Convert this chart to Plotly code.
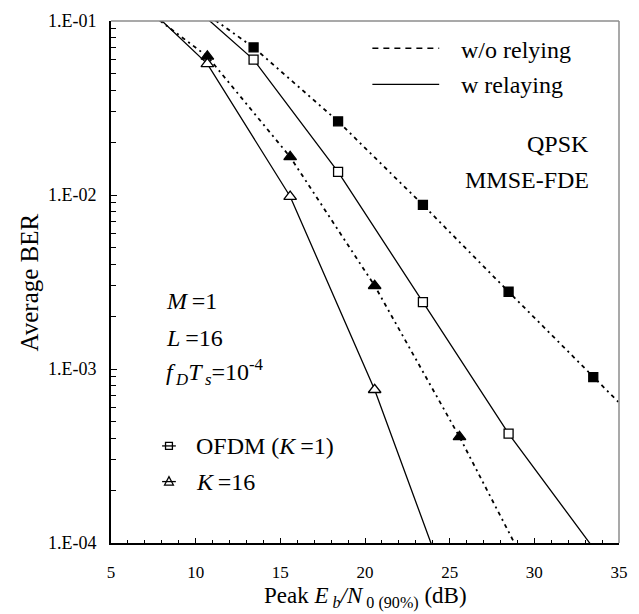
import plotly.graph_objects as go

# ---- data ----
sq_x = [13.42, 18.41, 23.42, 28.48, 33.48]
ofdm_wo = [0.0705, 0.0265, 0.00877, 0.00278, 0.000897]      # filled squares (w/o relaying)
ofdm_w_x = [13.42, 18.41, 23.42, 28.48]
ofdm_w = [0.060, 0.01359, 0.00242, 0.000425]                 # open squares (w relaying)

tri_x = [10.69, 15.58, 20.57, 25.58]
k16_wo = [0.0626, 0.01655, 0.00301, 0.000407]               # filled triangles (w/o relaying)
k16_w_x = [10.69, 15.58, 20.57]
k16_w = [0.0567, 0.0098, 0.00076]                           # open triangles (w relaying)

# curve extents beyond the first/last marker
ofdm_wo_line_x = [10.86] + sq_x + [35.41]
ofdm_wo_line_y = [0.1058] + ofdm_wo + [0.000585]
ofdm_w_line_x = [10.55] + ofdm_w_x + [33.48]
ofdm_w_line_y = [0.1058] + ofdm_w + [9.37e-5]
k16_wo_line_x = [7.58] + tri_x + [28.93]
k16_wo_line_y = [0.1058] + k16_wo + [9.55e-5]
k16_w_line_x = [7.75] + k16_w_x + [24.0]
k16_w_line_y = [0.1058] + k16_w + [9.37e-5]

y_tickvals = [1e-4, 1e-3, 1e-2, 1e-1]
y_ticktext = ["1.E-04", "1.E-03", "1.E-02", "1.E-01"]
y_minor = [m * 10 ** e for e in (-4, -3, -2) for m in range(2, 10)]

FONT = "Liberation Serif"
DOT = "2px,4px,4px,4px"
TS = "\u2009"  # thin space

fig = go.Figure()

def line(x, y, dash, width):
    fig.add_trace(go.Scatter(x=x, y=y, mode="lines", showlegend=False,
                             line=dict(color="black", width=width, dash=dash),
                             hoverinfo="skip"))

def marks(x, y, symbol, size, filled):
    fig.add_trace(go.Scatter(x=x, y=y, mode="markers", showlegend=False,
                             marker=dict(symbol=symbol, size=size,
                                         color="black" if filled else "white",
                                         line=dict(color="black", width=1.3)),
                             cliponaxis=False))

line(ofdm_wo_line_x, ofdm_wo_line_y, DOT, 1.8)
line(k16_wo_line_x, k16_wo_line_y, DOT, 1.8)
line(ofdm_w_line_x, ofdm_w_line_y, "solid", 1.3)
line(k16_w_line_x, k16_w_line_y, "solid", 1.3)

marks(sq_x, ofdm_wo, "square", 9, True)
marks(ofdm_w_x, ofdm_w, "square", 9, False)
marks(tri_x, k16_wo, "triangle-up", 11, True)
marks(k16_w_x, k16_w, "triangle-up", 11, False)

W, H = 639, 614
L, R, T, B = 111, 628, 16, 543          # plot area in page pixels

def px(x):
    return (x - L) / (R - L)
def py(y):
    return (B - y) / (B - T)

shapes = [
    # gray top & right frame
    dict(type="line", xref="paper", yref="paper", x0=0, x1=1, y0=1, y1=1,
         line=dict(color="#8c8c8c", width=1.5)),
    dict(type="line", xref="paper", yref="paper", x0=1, x1=1, y0=0, y1=1,
         line=dict(color="#8c8c8c", width=1.5)),
    # line-style key
    dict(type="line", xref="paper", yref="paper", x0=px(377), x1=px(445),
         y0=py(43.5), y1=py(43.5), line=dict(color="black", width=1.3, dash="6px,5px")),
    dict(type="line", xref="paper", yref="paper", x0=px(377), x1=px(445),
         y0=py(80), y1=py(80), line=dict(color="black", width=1.3)),
    # marker key: square with line
    dict(type="line", xref="paper", yref="paper", x0=px(163), x1=px(177),
         y0=py(445), y1=py(445), line=dict(color="black", width=1.3)),
    dict(type="rect", xref="paper", yref="paper", x0=px(166.5), x1=px(173.5),
         y0=py(448.5), y1=py(441.5), line=dict(color="black", width=1.3)),
    # triangle with line
    dict(type="line", xref="paper", yref="paper", x0=px(163), x1=px(177),
         y0=py(481), y1=py(481), line=dict(color="black", width=1.3)),
    dict(type="path", xref="paper", yref="paper",
         path=f"M {px(165.5)},{py(484.5)} L {px(174.5)},{py(484.5)} L {px(170)},{py(476)} Z",
         line=dict(color="black", width=1.3)),
]

def ann(text, x, y, xanchor="left", size=24):
    return dict(text=text, xref="paper", yref="paper", x=px(x), y=py(y),
                xanchor=xanchor, yanchor="middle", showarrow=False,
                font=dict(family=FONT, size=size, color="black"))

annotations = [
    ann("w/o relying", 465, 45),
    ann("w relaying", 465, 81),
    ann("QPSK", 599, 140, "right"),
    ann("MMSE-FDE", 599, 177, "right"),
    ann(f"<i>M</i>{TS}=1", 165, 299),
    ann(f"<i>L</i>{TS}=16", 165, 336),
    ann(f"<i>f</i><sub>{TS}<i>D</i></sub><i>T</i><sub>{TS}<i>s</i></sub>=10<sup>-4</sup>", 165, 370),
    ann(f"OFDM (<i>K</i>{TS}=1)", 195, 445),
    ann(f"<i>K</i>{TS}=16", 195, 481),
    # axis titles
    dict(text="Average BER", xref="paper", yref="paper", x=px(28), y=0.5,
         xanchor="center", yanchor="middle", textangle=-90, showarrow=False,
         font=dict(family=FONT, size=25, color="black")),
    dict(text="Peak <i>E</i><sub> <i>b</i></sub><i>/N</i><sub> 0 (90%)</sub> (dB)",
         xref="paper", yref="paper", x=0.5, y=py(598), xanchor="center",
         yanchor="middle", showarrow=False,
         font=dict(family=FONT, size=23, color="black")),
]

fig.update_layout(
    width=W, height=H, autosize=False,
    margin=dict(l=L, r=W - R, t=T, b=H - B),
    paper_bgcolor="white", plot_bgcolor="white",
    font=dict(family=FONT, color="black"),
    shapes=shapes, annotations=annotations,
    showlegend=False,
)
fig.update_xaxes(range=[5, 35], tickvals=[5, 10, 15, 20, 25, 30, 35],
                 ticks="inside", ticklen=5, tickwidth=1.3, tickcolor="black",
                 minor=dict(dtick=1, ticks="inside", ticklen=3.5, tickwidth=1.2, tickcolor="black"),
                 showline=True, linecolor="black", linewidth=2,
                 showgrid=False, zeroline=False,
                 tickfont=dict(family=FONT, size=17, color="black"),
                 ticklabelstandoff=13, ticklabeloverflow="allow")
fig.update_yaxes(type="log", range=[-4, -1], tickvals=y_tickvals, ticktext=y_ticktext,
                 ticks="inside", ticklen=6, tickwidth=1.3, tickcolor="black",
                 minor=dict(tickvals=y_minor, ticks="inside", ticklen=4.5, tickwidth=1.2, tickcolor="black"),
                 showline=True, linecolor="black", linewidth=2,
                 showgrid=False, zeroline=False,
                 tickfont=dict(family=FONT, size=18, color="black"),
                 ticklabelstandoff=9, ticklabeloverflow="allow")

post = (
    "document.documentElement.style.margin='0';"
    "document.body.style.margin='0';document.body.style.overflow='hidden';"
    "var gd=document.getElementById('{plot_id}');"
    "gd.style.width='639px';gd.style.height='614px';"
    "Plotly.relayout(gd,{width:638,height:614}).then(function(){"
    "return Plotly.relayout(gd,{width:639,height:614});});"
)
fig.write_html("out.html", config={"responsive": False, "displayModeBar": False},
               post_script=post)
